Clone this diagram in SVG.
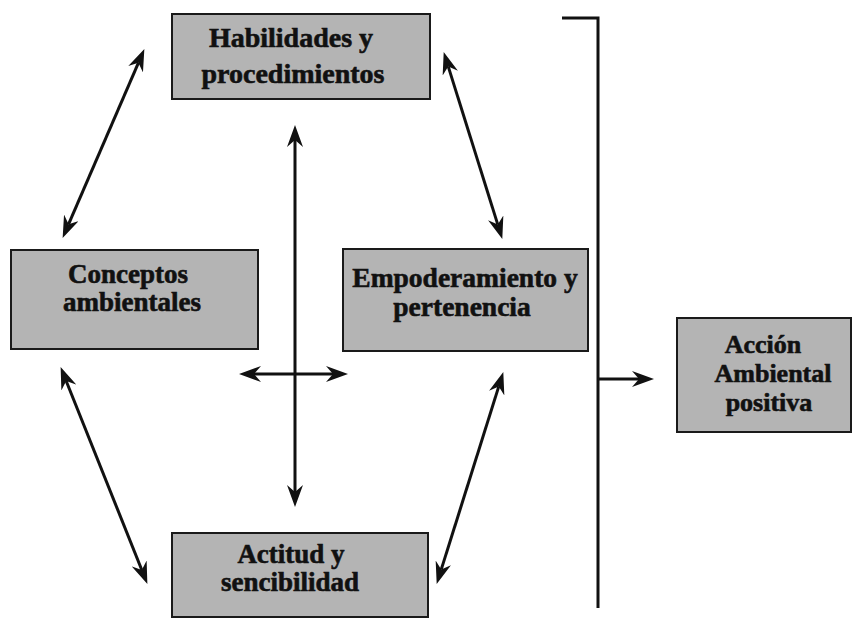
<svg xmlns="http://www.w3.org/2000/svg" width="853" height="621" viewBox="0 0 853 621">
<style>
.box{fill:#b4b4b4;stroke:#1a1a1a;stroke-width:2}
.t{font-family:"Liberation Serif","Times New Roman",serif;font-weight:bold;fill:#111;stroke:#111;stroke-width:0.6;text-anchor:middle}
.ln{stroke:#111;stroke-width:3;fill:none}
.arr{marker-start:url(#ah);marker-end:url(#ah)}
</style>
<defs>
<marker id="ah" viewBox="0 0 22 16" refX="7" refY="8" markerWidth="22" markerHeight="16" markerUnits="userSpaceOnUse" orient="auto-start-reverse">
<path d="M0,0 L22,8 L0,16 L7,8 z" fill="#111"/>
</marker>
</defs>
<rect width="853" height="621" fill="#fff"/>
<g id="connectors">
<line class="ln arr" x1="138.4" y1="62.8" x2="68.6" y2="224.2"/>
<line class="ln arr" x1="448.2" y1="66.4" x2="497.8" y2="224.6"/>
<line class="ln arr" x1="66.2" y1="381" x2="141.8" y2="570"/>
<line class="ln arr" x1="498.8" y1="386.4" x2="441.2" y2="569.6"/>
<line class="ln arr" x1="295" y1="140" x2="295" y2="492"/>
<line class="ln arr" x1="254" y1="374" x2="333" y2="374"/>
<polyline class="ln" points="562,18 598,18 598,608"/>
<line class="ln" x1="598" y1="379" x2="639" y2="379" marker-end="url(#ah)"/>
</g>
<g id="habilidades">
<rect class="box" x="172" y="14" width="258" height="85"/>
<text class="t" font-size="28" x="291" y="47">Habilidades y</text>
<text class="t" font-size="28" x="293" y="83">procedimientos</text>
</g>
<g id="conceptos">
<rect class="box" x="11" y="250" width="247" height="99"/>
<text class="t" font-size="27" x="128" y="283">Conceptos</text>
<text class="t" font-size="27" x="132" y="311">ambientales</text>
</g>
<g id="empoderamiento">
<rect class="box" x="343" y="249" width="245" height="102"/>
<text class="t" font-size="27.5" x="465" y="287">Empoderamiento y</text>
<text class="t" font-size="27.5" x="462" y="316">pertenencia</text>
</g>
<g id="actitud">
<rect class="box" x="172" y="533" width="256" height="84"/>
<text class="t" font-size="27" x="291" y="563">Actitud y</text>
<text class="t" font-size="27" x="290" y="591">sencibilidad</text>
</g>
<g id="accion">
<rect class="box" x="677" y="318" width="174" height="114"/>
<text class="t" font-size="26" x="763" y="353">Acción</text>
<text class="t" font-size="26" x="773" y="382">Ambiental</text>
<text class="t" font-size="26" x="769" y="411">positiva</text>
</g>
</svg>
